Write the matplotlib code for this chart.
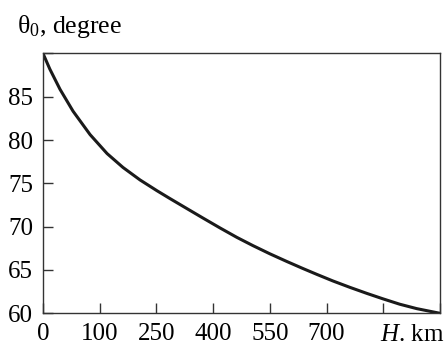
import numpy as np
import matplotlib.pyplot as plt

# curve (H in axis units, theta0 in degrees)
h_km = [0, 12, 30, 53, 83, 113, 141, 171, 201, 224, 254, 282, 312, 342,
        370, 400, 430, 458, 483, 511, 541, 571, 599, 629, 659, 700]
theta0 = [90.0, 88.2, 85.86, 83.33, 80.63, 78.44, 76.84, 75.4, 74.15, 73.24,
          72.08, 71.0, 69.86, 68.76, 67.82, 66.87, 65.98, 65.18, 64.49, 63.74,
          63.0, 62.3, 61.68, 61.05, 60.54, 60.0]

x_ticks = [0, 100, 200, 300, 400, 500, 600, 700]
x_ticklabels = ['0', '100', '250', '400', '550', '700', '', '']
y_ticks = [60, 65, 70, 75, 80, 85, 90]
y_ticklabels = ['60', '65', '70', '75', '80', '85', '']

plt.rcParams['font.family'] = ['Liberation Serif', 'DejaVu Serif']
plt.rcParams['mathtext.fontset'] = 'custom'
plt.rcParams['mathtext.rm'] = 'Liberation Serif'
plt.rcParams['mathtext.it'] = 'Liberation Serif:italic'

fig = plt.figure(figsize=(4.47, 3.47), dpi=100)
ax = fig.add_axes([0.0962, 0.0971, 0.8881, 0.7489])

ax.plot(h_km, theta0, color='#1a1a1a', lw=2.2, solid_joinstyle='round')

ax.set_xlim(0, 700)
ax.set_ylim(60, 90)
ax.set_xticks(x_ticks)
ax.set_xticklabels(x_ticklabels)
ax.set_yticks(y_ticks)
ax.set_yticklabels(y_ticklabels)
ax.tick_params(direction='in', length=7, width=1.0, color='#333333',
               labelsize=18, pad=7)
for s in ax.spines.values():
    s.set_linewidth(1.0)
    s.set_color('#333333')

fig.text(0.038, 0.905, r'θ$_0$, degree', fontsize=18.5, ha='left', va='baseline')
fig.text(0.922, 0.018, r'$\it{H}$. km', fontsize=18, ha='center', va='baseline')

fig.savefig('out.png', dpi=100)
